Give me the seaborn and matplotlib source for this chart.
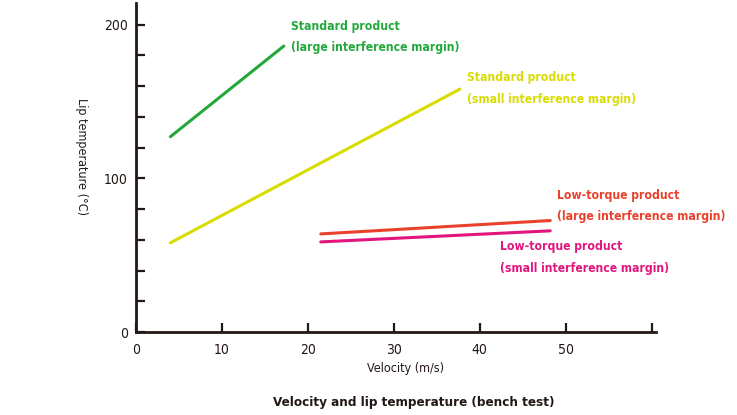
import pandas as pd
import matplotlib.pyplot as plt
import seaborn as sns

# Data
series = ["Standard product\n(large interference margin)",
          "Standard product\n(small interference margin)",
          "Low-torque product\n(large interference margin)",
          "Low-torque product\n(small interference margin)"]
velocity_start = [4, 4, 21.5, 21.5]
velocity_end = [17.2, 37.7, 48.2, 48.2]
temp_start = [127, 58, 63.8, 58.6]
temp_end = [186, 158, 72.5, 65.8]
colors = ["#23a93b", "#d9dc00", "#e9412b", "#e2157f"]

x_ticks = [0, 10, 20, 30, 40, 50, 60]
x_ticklabels = ["0", "10", "20", "30", "40", "50", ""]
y_ticks = [0, 20, 40, 60, 80, 100, 120, 140, 160, 180, 200]
y_ticklabels = ["0", "", "", "", "", "100", "", "", "", "", "200"]

rows = []
for name, x0, x1, y0, y1 in zip(series, velocity_start, velocity_end, temp_start, temp_end):
    rows.append({"series": name, "velocity": x0, "temp": y0})
    rows.append({"series": name, "velocity": x1, "temp": y1})
df = pd.DataFrame(rows)

sns.set_style("white")
plt.rcParams["font.family"] = ["DejaVu Sans"]
plt.rcParams["font.stretch"] = "condensed"

fig = plt.figure(figsize=(7.37, 4.15), dpi=100)
ax = fig.add_axes([0.1845, 0.2, 0.7055, 0.7928])

sns.lineplot(data=df, x="velocity", y="temp", hue="series",
             palette=dict(zip(series, colors)), linewidth=2.2,
             legend=False, ax=ax)

ax.set_xlim(0, 60.5)
ax.set_ylim(0, 214)
ax.set_xticks(x_ticks)
ax.set_xticklabels(x_ticklabels)
ax.set_yticks(y_ticks)
ax.set_yticklabels(y_ticklabels)

dark = "#231815"
for side in ["top", "right"]:
    ax.spines[side].set_visible(False)
for side in ["left", "bottom"]:
    ax.spines[side].set_color(dark)
    ax.spines[side].set_linewidth(2)
ax.tick_params(left=True, bottom=True, direction="in", length=6.5, width=1.6,
               color=dark, labelsize=10, labelcolor=dark, pad=6)
ax.tick_params(axis="x", pad=8)
ax.set_xlabel("")
ax.set_ylabel("")

# labels next to lines
label_pos = [(18, 192), (38.5, 158.5), (49, 82), (42.3, 48.5)]
for name, color, (lx, ly) in zip(series, colors, label_pos):
    ax.text(lx, ly, name, color=color, fontsize=8.7, fontweight="bold",
            ha="left", va="center", linespacing=1.85)

fig.text(0.111, 0.624, "Lip temperature (°C)", rotation=270,
         ha="center", va="center", fontsize=9, color=dark)
fig.text(0.55, 0.112, "Velocity (m/s)", ha="center", va="center",
         fontsize=9, color=dark)
fig.text(0.562, 0.03, "Velocity and lip temperature (bench test)",
         ha="center", va="center", fontsize=9.6, fontweight="bold", color=dark)

fig.savefig("out.png", dpi=100)
